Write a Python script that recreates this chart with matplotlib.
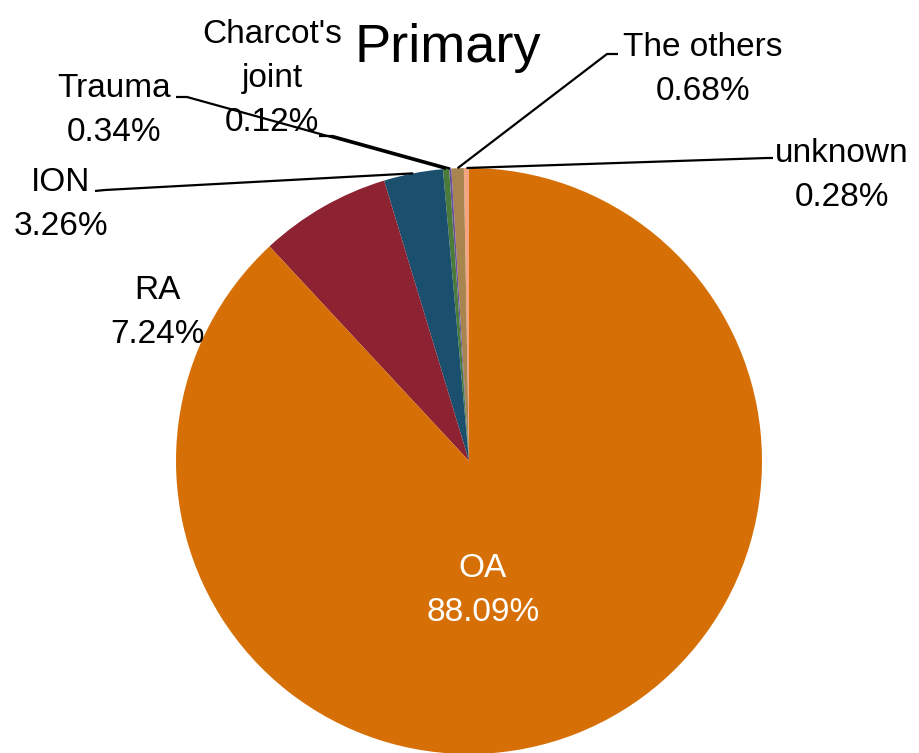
import numpy as np
import matplotlib
matplotlib.use("Agg")
import matplotlib.pyplot as plt

W, H = 919, 753

# slices, counter-clockwise from 12 o'clock
labels = ["unknown", "The others", "Charcot's\njoint", "Trauma", "ION", "RA", "OA"]
values = [0.28, 0.68, 0.12, 0.34, 3.26, 7.24, 88.09]
colors = ["#F4A582", "#A8854F", "#6B4E9E", "#4A7B3A", "#1B4F6E", "#8C2232", "#D67006"]

# label placement in pixel coords: centre x, first baseline y
label_pos = {
    "unknown": (842, 162),
    "The others": (703, 56),
    "Charcot's\njoint": (272, 43),
    "Trauma": (114, 97),
    "ION": (61, 191),
    "RA": (157, 299),
    "OA": (483, 577),
}
# leader line anchor (outer end, knee) in pixel coords
leaders = {
    "unknown": [(773, 158), (767, 158)],
    "The others": [(618, 54), (607, 54)],
    "Charcot's\njoint": [(319, 136), (333, 136)],
    "Trauma": [(176, 97), (187, 97)],
    "ION": [(95, 191), (105, 190)],
}

plt.rcParams["font.family"] = ["Liberation Sans", "DejaVu Sans"]

fig = plt.figure(figsize=(W / 100, H / 100), dpi=100)
ax = fig.add_axes([0, 0, 1, 1])

cx, cy, r = 469, H - 461, 293
wedges, _ = ax.pie(values, colors=colors, startangle=90, counterclock=True,
                   center=(cx, cy), radius=r, wedgeprops=dict(linewidth=0))
ax.set_xlim(0, W)
ax.set_ylim(0, H)
ax.set_aspect("equal")
ax.axis("off")

line_gap = 44
for lab, val, w in zip(labels, values, wedges):
    x, y0 = label_pos[lab]
    lines = lab.split("\n") + [f"{val:.2f}%"]
    color = "white" if lab == "OA" else "black"
    for i, txt in enumerate(lines):
        ax.text(x, H - (y0 + i * line_gap), txt, ha="center", va="baseline",
                fontsize=24, color=color)
    if lab in leaders:
        mid = np.deg2rad((w.theta1 + w.theta2) / 2)
        px, py = cx + r * np.cos(mid), cy + r * np.sin(mid)
        (ax0, ay0), (ax1, ay1) = leaders[lab]
        ax.plot([ax0, ax1, px], [H - ay0, H - ay1, py], color="black",
                lw=1.6, solid_capstyle="butt")

ax.text(448, H - 62, "Primary", ha="center", va="baseline", fontsize=39)

fig.savefig("out.png", dpi=100)
